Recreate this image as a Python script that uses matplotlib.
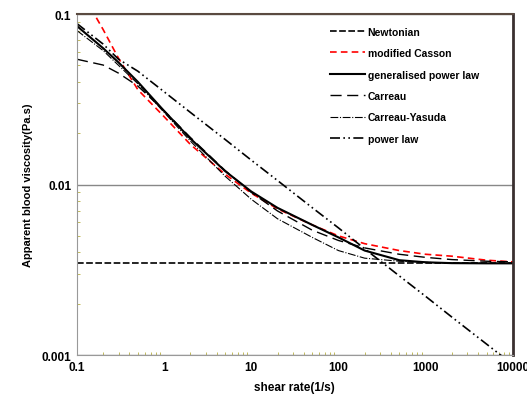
import numpy as np
import matplotlib
matplotlib.use('Agg')
import matplotlib.pyplot as plt

plt.rcParams['font.family'] = ['Liberation Sans', 'DejaVu Sans']
plt.rcParams['font.weight'] = 'bold'

# shear rate points (1/s)
shear = [0.1, 0.2, 0.3, 0.5, 1, 2, 5, 10, 20, 50, 100, 200, 500, 1000, 2000, 5000, 10000]

# apparent viscosity (Pa.s)
newtonian = [0.00345] * len(shear)
mod_casson = [0.15, 0.081, 0.055, 0.036, 0.025, 0.0172, 0.0115, 0.0089, 0.0072, 0.0058,
              0.0050, 0.0045, 0.0041, 0.0039, 0.0038, 0.0036, 0.00352]
gen_power = [0.085, 0.063, 0.052, 0.040, 0.027, 0.0186, 0.0120, 0.0091, 0.0073, 0.0058,
             0.0049, 0.0041, 0.0036, 0.00350, 0.00346, 0.00345, 0.00345]
carreau = [0.0543, 0.0502, 0.045, 0.0378, 0.0271, 0.0189, 0.0121, 0.0090, 0.0070, 0.0054,
           0.0047, 0.00425, 0.0039, 0.00374, 0.00363, 0.00355, 0.00352]
carreau_yasuda = [0.080, 0.061, 0.050, 0.039, 0.0265, 0.0180, 0.0112, 0.0082, 0.0063, 0.0049,
                  0.0041, 0.0037, 0.00355, 0.0035, 0.00346, 0.00345, 0.00345]
power_law = [0.0879, 0.0666, 0.0543, 0.0462, 0.035, 0.0265, 0.0184, 0.0139, 0.01056, 0.00732,
             0.00557, 0.0042, 0.00291, 0.00221, 0.00167, 0.00116, 0.00088]

fig = plt.figure(figsize=(5.27, 4.06), dpi=100)
ax = fig.add_axes([0.146, 0.123, 0.827, 0.840])

ax.plot(shear, newtonian, color='black', linestyle=(0, (4, 1.5)), lw=1.2, label='Newtonian')
ax.plot(shear, mod_casson, color='red', linestyle=(0, (4, 2.5)), lw=1.2, label='modified Casson')
ax.plot(shear, gen_power, color='black', linestyle='-', lw=1.5, label='generalised power law')
ax.plot(shear, carreau, color='black', linestyle=(0, (8, 4)), lw=1.0, label='Carreau')
ax.plot(shear, carreau_yasuda, color='black', linestyle=(0, (7, 1.5, 1, 1.5)), lw=0.8,
        label='Carreau-Yasuda')
ax.plot(shear, power_law, color='black', linestyle=(0, (6, 2, 1, 2, 1, 2)), lw=1.2,
        label='power law')

ax.set_xscale('log')
ax.set_yscale('log')
ax.set_xlim(0.1, 10000)
ax.set_ylim(0.001, 0.1)
ax.set_xticks([0.1, 1, 10, 100, 1000, 10000])
ax.set_xticklabels(['0.1', '1', '10', '100', '1000', '10000'])
ax.set_yticks([0.001, 0.01, 0.1])
ax.set_yticklabels(['0.001', '0.01', '0.1'])
ax.tick_params(which='major', length=0, labelsize=8.5, pad=4)
ax.tick_params(which='minor', length=2, color='#b8b040', direction='in')
ax.grid(True, which='major', axis='y', color='#888888', lw=1)

ax.spines['top'].set_color('#5a4a40')
ax.spines['top'].set_linewidth(1.5)
ax.spines['right'].set_color('#3a3030')
ax.spines['right'].set_linewidth(2)
ax.spines['left'].set_color('#999999')
ax.spines['bottom'].set_color('#999999')

ax.set_xlabel('shear rate(1/s)', fontsize=8.5, fontweight='bold', labelpad=6)
ax.set_ylabel('Apparent blood viscosity(Pa.s)', fontsize=8, fontweight='bold', labelpad=6)

leg = ax.legend(loc='upper left', bbox_to_anchor=(0.58, 0.963), frameon=False,
                borderpad=0, borderaxespad=0,
                fontsize=7.5, handlelength=3.4, labelspacing=1.1, handletextpad=0.25)
for t in leg.get_texts():
    t.set_fontweight('bold')

fig.savefig('out.png', dpi=100)
